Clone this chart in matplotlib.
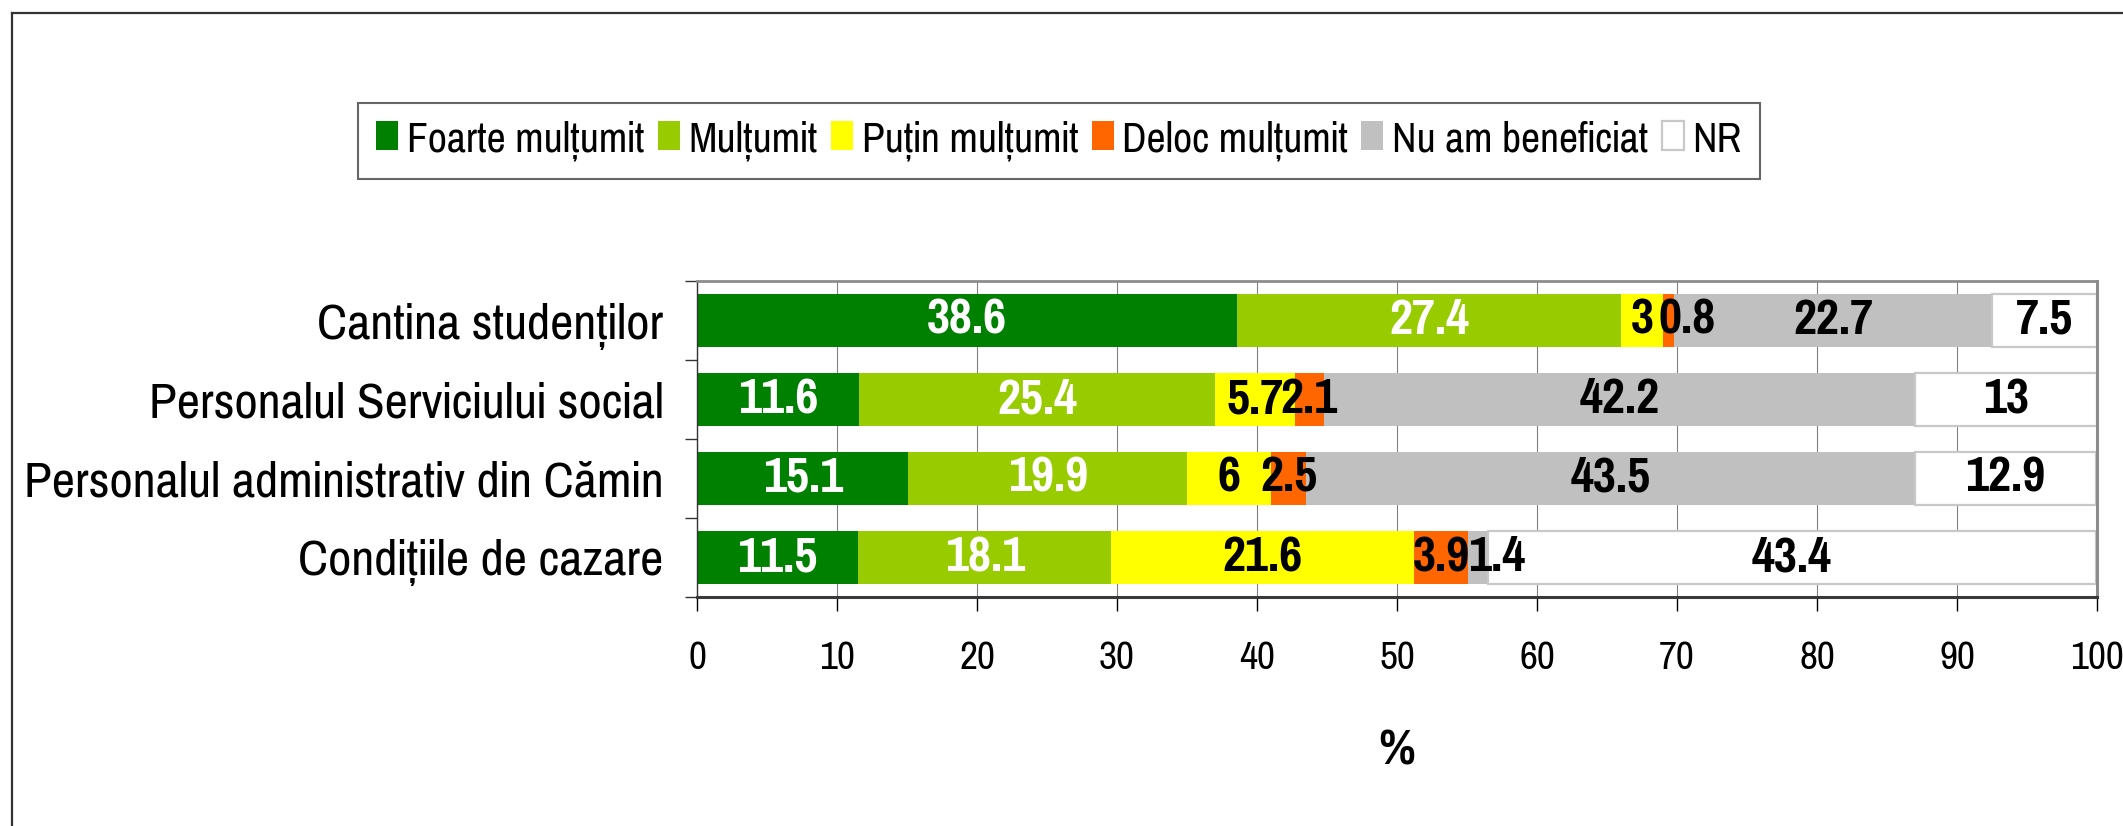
import matplotlib
matplotlib.use("Agg")
import matplotlib.pyplot as plt
from matplotlib import font_manager as fm
from matplotlib.lines import Line2D

CATEGORIES = ["Cantina studenților", "Personalul Serviciului social",
              "Personalul administrativ din Cămin", "Condițiile de cazare"]
SERIES = ["Foarte mulțumit", "Mulțumit", "Puțin mulțumit", "Deloc mulțumit",
          "Nu am beneficiat", "NR"]
FOARTE = [38.6, 11.6, 15.1, 11.5]
MULTUMIT = [27.4, 25.4, 19.9, 18.1]
PUTIN = [3, 5.7, 6, 21.6]
DELOC = [0.8, 2.1, 2.5, 3.9]
NU_AM = [22.7, 42.2, 43.5, 1.4]
NR = [7.5, 13, 12.9, 43.4]
XTICKS = [0, 10, 20, 30, 40, 50, 60, 70, 80, 90, 100]

FILLS = ["#008000", "#99cc00", "#ffff00", "#ff6600", "#c0c0c0", "#ffffff"]
EDGES = ["none", "none", "none", "none", "none", "#c8c8c8"]
TEXT_COLORS = ["white", "white", "black", "black", "black", "black"]

# an Arial-Narrow-like face, first one found
names = {f.name for f in fm.fontManager.ttflist}
FAMILY = next((n for n in ("Liberation Sans Narrow", "Arial Narrow", "Pragati Narrow",
                           "Archivo Narrow", "Roboto Condensed", "Liberation Sans")
               if n in names), "DejaVu Sans")
plt.rcParams["font.family"] = [FAMILY, "DejaVu Sans"]

W, H = 2123, 826
fig = plt.figure(figsize=(W / 100, H / 100), dpi=100)
fig.patch.set_facecolor("white")
renderer = fig.canvas.get_renderer()


def fit(s, px, weight="normal"):
    # font size (pt) that makes s about px pixels wide
    t = fig.text(0, 0, s, fontsize=20, fontweight=weight)
    w = t.get_window_extent(renderer).width
    t.remove()
    return 20 * px / w


FS_CAT = fit("Personalul administrativ din Cămin", 640)
FS_VAL = fit("38.6", 80, "bold")
FS_LEG = fit("Foarte mulțumit", 237)
FS_TICK = fit("50", 36)
FS_PCT = fit("%", 37, "bold")

ax = fig.add_axes([697 / W, 1 - 597 / H, 1400 / W, 316 / H])

series = [FOARTE, MULTUMIT, PUTIN, DELOC, NU_AM, NR]
ypos = list(range(len(CATEGORIES)))
left = [0.0] * len(CATEGORIES)
handles = []
for name, vals, fc, ec, tc in zip(SERIES, series, FILLS, EDGES, TEXT_COLORS):
    bars = ax.barh(ypos, vals, left=left, height=0.68, color=fc,
                   edgecolor=ec, linewidth=1.6 if ec != "none" else 0,
                   label=name, zorder=2)
    anns = ax.bar_label(bars, labels=[f"{v:g}" for v in vals], label_type="center",
                        color=tc, fontsize=FS_VAL, fontweight="bold", zorder=4)
    # tiny slices: the label sits a little to the right, as in the original
    for ann, v in zip(anns, vals):
        if v < 1.5:
            ann.xyann = (13, 0)
    left = [l + v for l, v in zip(left, vals)]
    handles.append(bars)

ax.set_xlim(0, 100)
ax.set_ylim(3.5, -0.5)
ax.set_xticks(XTICKS)
ax.set_xticklabels([str(t) for t in XTICKS])
ax.set_yticks(ypos)
ax.set_yticklabels(CATEGORIES)
ax.set_yticks([-0.5, 0.5, 1.5, 2.5, 3.5], minor=True)
ax.tick_params(axis="y", which="major", length=0, pad=24, labelsize=FS_CAT)
ax.tick_params(axis="y", which="minor", length=9, width=1, color="#333333")
ax.tick_params(axis="x", length=10, width=1, color="black", pad=22,
               labelsize=FS_TICK)

ax.grid(True, axis="x", color="#808080", linewidth=0.8, zorder=0)
ax.set_axisbelow(True)
ax.spines["top"].set_color("#8c8c8c")
ax.spines["top"].set_linewidth(2)
ax.spines["right"].set_color("#8c8c8c")
ax.spines["right"].set_linewidth(2.2)
ax.spines["bottom"].set_color("#3a3a3a")
ax.spines["bottom"].set_linewidth(2.2)
ax.spines["left"].set_color("#333333")
ax.spines["left"].set_linewidth(1)

ax.set_xlabel("%", fontsize=FS_PCT, fontweight="bold")
ax.xaxis.set_label_coords(0.5, -0.487)
ax.xaxis.label.set_va("center")

px = FS_LEG * 100 / 72
leg = fig.legend(handles=handles, labels=SERIES, ncol=6,
                 loc="center", bbox_to_anchor=(1059 / W, 1 - 141 / H),
                 fontsize=FS_LEG, frameon=True, fancybox=False,
                 edgecolor="#404040", handlelength=22 / px, handleheight=27 / px,
                 handletextpad=9 / px, columnspacing=13 / px, borderpad=0.4,
                 borderaxespad=0)
leg.get_frame().set_linewidth(1.5)

# outer frame of the picture (cut off at right and bottom)
fig.add_artist(Line2D([12 / W, 12 / W], [0, 1 - 13 / H], color="#333333",
                      linewidth=1.6, transform=fig.transFigure))
fig.add_artist(Line2D([12 / W, 1], [1 - 13 / H, 1 - 13 / H], color="#333333",
                      linewidth=1.6, transform=fig.transFigure))

fig.savefig("out.png", dpi=100, facecolor="white")
